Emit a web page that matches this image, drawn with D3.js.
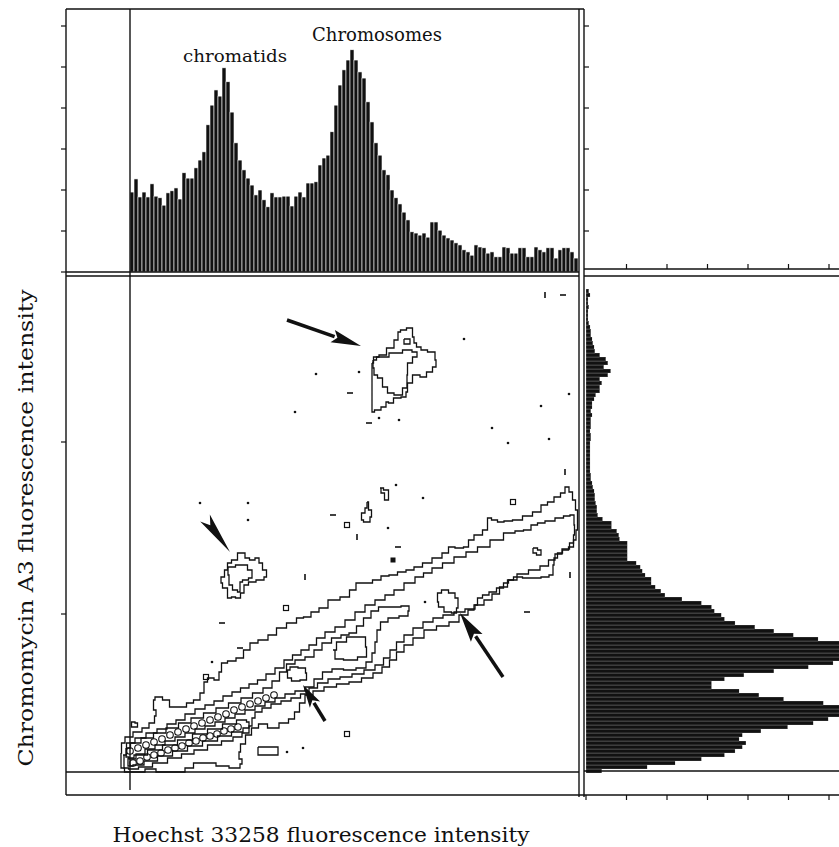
<!DOCTYPE html>
<html><head><meta charset="utf-8">
<script src="https://cdn.jsdelivr.net/npm/d3@7"></script>
<style>
body{margin:0;background:#fff}
svg{display:block}
text{font-family:"DejaVu Serif",serif;fill:#111}
</style>
</head><body>
<svg id="c" width="839" height="847"></svg>
<script>
// ---------- DATA ----------
// Top histogram: Hoechst 33258 channel bins (4 channels wide), counts
const binWidth = 4;
const topCounts = [195,227,183,195,183,215,185,181,163,193,
198,205,178,242,229,229,254,273,293,359,
407,444,429,498,464,390,315,273,249,229,
212,188,200,176,159,193,183,183,185,185,
161,185,195,183,217,217,220,261,278,285,
342,407,456,493,517,542,517,488,473,415,
366,315,285,249,237,200,181,166,146,127,
98,95,90,95,85,122,122,102,90,83,
78,71,66,54,49,41,66,61,59,46,
49,37,37,61,59,46,46,59,59,37,
37,61,54,49,59,59,34,54,59,59,
49,34];
// Right histogram: Chromomycin A3 channel bins (4 channels wide), counts
const rightCounts = [39,151,220,285,342,368,386,395,378,386,
432,498,561,598,639,671,654,586,488,427,
378,310,310,342,390,464,549,610,647,683,
708,695,659,573,512,464,417,368,342,334,
317,310,285,237,195,185,171,161,161,146,
139,134,124,102,102,102,102,102,83,81,
76,63,63,41,29,27,27,24,22,22,
20,17,15,12,12,10,10,10,10,10,
10,10,10,12,12,10,12,12,12,15,
12,15,15,20,24,34,34,39,34,54,
61,44,54,49,34,22,20,17,15,12,
12,10,7,5,5,5,7,5,5,10,
7];
const countTicks = [0,100,200,300,400,500,600];
const mainYTicks = [159,331];

// Contours [Hoechst, Chromomycin] in channel units
const contourOuter = [[-9,20],[-8,30],[-2,36],[8,41],[16,45],[22,50],[27,57],[25,63],[22,73],[28,76],[37,73],[42,66],[53,66],[60,70],[67,73],[73,80],[75,91],[80,95],[88,93],[90,101],[93,110],[102,112],[110,115],[117,123],[123,130],[133,133],[143,138],[150,145],[163,150],[170,155],[177,156],[185,161],[193,165],[203,173],[217,176],[222,183],[230,190],[238,190],[247,193],[255,197],[263,198],[272,201],[280,203],[288,206],[297,210],[307,215],[317,220],[320,226],[330,225],[337,226],[340,233],[348,238],[357,243],[358,255],[365,253],[370,251],[378,252],[387,253],[398,257],[407,261],[415,268],[420,271],[428,276],[433,280],[437,286],[441,281],[444,273],[447,263],[448,253],[447,243],[445,233],[442,226],[435,223],[430,220],[425,215],[423,208],[423,198],[415,196],[407,195],[398,195],[387,196],[380,193],[377,190],[370,185],[363,181],[355,178],[350,175],[345,168],
[343,163],[333,158],[325,151],[313,147],[300,143],[288,135],[278,128],[270,121],[263,113],[256,106],[248,100],[238,95],[225,91],[213,89],[200,86],[188,82],[178,78],[172,70],[167,61],[162,54],[155,50],[143,45],[132,49],[125,45],[118,38],[113,29],[108,21],[110,14],[114,9],[106,5],[92,7],[80,10],[67,10],[60,5],[50,1],[32,1],[20,4],[10,1],[-2,1],[-9,5]];
const contourBand = [[-7,18],[0,30],[10,35],[22,40],[32,44],[42,49],[50,53],[60,59],[70,64],[80,68],[88,72],[98,77],[106,81],[115,85],[123,89],[132,93],[140,99],[150,105],[158,113],[167,118],[175,123],[183,128],[190,135],[200,141],[210,146],[220,153],[230,161],[240,168],[250,173],[260,178],[268,183],[280,190],[290,196],[297,200],[307,205],[318,210],[330,216],[342,221],[353,226],[367,233],[380,240],[390,242],[397,243],[405,248],[410,250],[420,252],[430,255],[437,257],[443,258],[445,248],[444,238],[443,230],
[436,224],[428,219],[422,213],[415,207],[405,203],[392,199],[382,193],[373,186],[366,179],[358,173],[350,168],[340,164],[330,161],[318,158],[308,155],[298,151],[288,145],[278,138],[270,131],[263,123],[257,115],[250,108],[240,103],[228,99],[216,96],[204,94],[192,90],[183,85],[175,79],[166,75],[156,72],[146,69],[136,65],[128,61],[122,55],[122,47],[116,40],[108,36],[98,32],[85,28],[70,23],[58,19],[45,15],[30,10],[15,6],[2,4],[-5,5]];
const contourRidge = [[-4,25],[5,30],[17,35],[30,40],[42,45],[55,50],[67,55],[80,60],[92,65],[105,70],[117,75],[128,80],[138,85],[146,92],[153,101],[160,109],[170,113],[180,116],[188,123],[196,130],[207,135],[215,138],[223,140],[230,147],[237,155],[245,162],[252,166],[265,166],[277,167],[281,162],[275,157],[263,155],[253,151],[248,143],[246,131],[244,120],[240,111],[232,105],[220,103],[207,104],[197,101],[188,94],[180,86],[170,82],[160,79],[150,75],[140,71],[130,67],[120,63],[110,59],[100,55],[90,51],[80,47],[70,44],[60,40],[50,36],[40,32],[30,28],[20,24],[10,19],[2,14],[-4,16]];
const contourRidgeLow = [[-2,15],[10,18],[25,23],[40,28],[55,33],[70,39],[85,44],[100,49],[113,53],[120,51],[118,45],[108,41],[95,37],[80,32],[65,27],[50,22],[35,17],[20,12],[8,8],[-2,7]];
const contourPeak = [[203,123],[210,131],[223,136],[233,136],[238,126],[235,116],[220,113],[207,114]];
const contourSmallA = [[157,103],[163,106],[173,105],[178,100],[175,93],[165,92],[158,95]];
const contourSmallB = [[308,180],[315,183],[322,180],[328,175],[328,165],[325,160],[318,161],[310,166],[307,171]];
const contourUpperOuter = [[242,410],[245,416],[253,418],[260,425],[268,433],[268,441],[273,443],[280,445],[285,436],[283,430],[290,426],[292,423],[303,421],[307,413],[305,406],[300,401],[293,396],[287,398],[278,390],[277,381],[275,376],[267,375],[260,370],[257,371],[255,366],[247,363],[242,361]];
const contourUpperInner = [[243,413],[250,416],[268,420],[277,423],[287,421],[287,416],[278,410],[277,398],[277,385],[268,378],[260,380],[255,386],[250,395],[245,398],[243,405]];
const contourUpperDot = [[274,434],[280,434],[280,429],[274,429]];
const contourMidOuter = [[110,220],[105,213],[98,210],[97,203],[92,196],[90,190],[95,185],[100,175],[103,176],[108,175],[113,180],[115,188],[122,191],[130,193],[138,196],[135,203],[130,210],[128,215],[122,213],[117,215],[113,220]];
const contourMidInner = [[98,206],[113,208],[122,203],[122,195],[115,193],[110,191],[110,181],[105,183],[100,188],[98,198]];
const smallLoops = [
  [[2,51],[8,50],[7,46],[1,46]],
  [[237,271],[240,263],[243,256],[237,251],[230,253],[233,260],[237,265]],
  [[250,285],[257,283],[260,276],[257,273],[252,280]],
  [[403,225],[412,223],[410,218],[403,220]],
  [[128,26],[148,26],[148,18],[128,18]]
];
const beadsUpper = [[0,22],[8,25],[16,28],[24,31],[32,34],[40,38],[48,41],[56,44],[64,47],[72,50],[80,53],[88,56],[96,59],[104,63],[112,66],[120,69],[128,72],[136,75],[144,78]];
const beadsLower = [[3,10],[10,12],[17,16],[24,18],[31,20],[38,23],[45,25],[52,27],[59,30],[66,32],[73,35],[80,37],[87,39],[94,42],[101,44],[108,46]];
const dots = [[334,434],[186,399],[229,401],[165,361],[249,355],[269,353],[362,345],[378,330],[411,367],[419,334],[439,379],[266,288],[293,275],[258,245],[295,171],[118,270],[70,270],[118,253],[82,111],[157,21],[173,25]];
const dashesH = [[220,380],[239,350],[433,478],[268,226],[397,161],[203,258],[92,150],[110,125]];
const dashesV = [[415,478],[227,236],[175,196],[435,301],[440,198]];
const squares = [[217,248],[156,165],[383,271],[76,96],[217,39]];
const squaresFilled = [[263,213]];
// arrows: [tail, tip]
const arrows = [
  {tail:[157,453], tip:[231,427], head:30, w:13},
  {tail:[373,96],  tip:[330,160], head:30, w:14},
  {tail:[195,52],  tip:[173,88],  head:23, w:12}
];
const featherArrow = {tail:[75,255], tip:[100,221]};
const labels = [
  {text:"chromatids", at:105, count:512, size:17, len:104},
  {text:"Chromosomes", at:247, count:563, size:18, len:130}
];
const xTitle = "Hoechst 33258 fluorescence intensity";
const yTitle = "Chromomycin A3 fluorescence intensity";

// ---------- LAYOUT ----------
const svg = d3.select("#c");
const x = d3.scaleLinear().domain([0,448]).range([130,578]);
const y = d3.scaleLinear().domain([0,501]).range([773,272]);
const yTop = d3.scaleLinear().domain([0,600]).range([272,26]);
const xRight = d3.scaleLinear().domain([0,600]).range([586,829]);

const L = 66, R1 = 579, R2 = 584, T = 9, B = 795;
const ink = "#111";

// top histogram bars
svg.append("g").selectAll("rect").data(topCounts).join("rect")
  .attr("x",(d,i)=>x(i*binWidth)).attr("width",(d,i)=>x((i+1)*binWidth)-x(i*binWidth))
  .attr("y",d=>yTop(d)).attr("height",d=>yTop(0)-yTop(d))
  .attr("fill",ink).attr("stroke","#fff").attr("stroke-width",0.6);

// right histogram bars
svg.append("g").selectAll("rect").data(rightCounts).join("rect")
  .attr("x",xRight(0)).attr("width",d=>xRight(d)-xRight(0))
  .attr("y",(d,j)=>y((j+1)*binWidth)).attr("height",(d,j)=>y(j*binWidth)-y((j+1)*binWidth))
  .attr("fill",ink).attr("stroke","#fff").attr("stroke-width",0.2);

// frame lines
const lines = [
  [L,T,L,B],[L,T,R2,T],[x(0),T,x(0),790],
  [L,yTop(0),R1,yTop(0)],[L,yTop(0)+4,R1,yTop(0)+4],
  [R1,T,R1,B+2],[R2,T,R2,B+2],
  [R2,269,839,269],[R2,276,839,276],
  [L,y(0)-1,R1,y(0)-1],[R2,771,839,771],
  [L,B,839,B]
];
svg.append("g").selectAll("line").data(lines).join("line")
  .attr("x1",d=>d[0]).attr("y1",d=>d[1]).attr("x2",d=>d[2]).attr("y2",d=>d[3])
  .attr("stroke",ink).attr("stroke-width",1.4);

// ticks
const tk = svg.append("g").attr("stroke",ink).attr("stroke-width",1.2);
countTicks.forEach(v=>{
  tk.append("line").attr("x1",L).attr("x2",L-5).attr("y1",yTop(v)).attr("y2",yTop(v));
  if(v>0){
    tk.append("line").attr("x1",R2).attr("x2",R2+5).attr("y1",yTop(v)).attr("y2",yTop(v));
    tk.append("line").attr("x1",xRight(v)).attr("x2",xRight(v)).attr("y1",269).attr("y2",264);
  }
  tk.append("line").attr("x1",xRight(v)).attr("x2",xRight(v)).attr("y1",B).attr("y2",B+5);
});
mainYTicks.forEach(v=>{
  tk.append("line").attr("x1",L).attr("x2",L-5).attr("y1",y(v)).attr("y2",y(v));
});

// contours
const step = d3.line().x(d=>x(d[0])).y(d=>y(d[1])).curve(d3.curveStep);
const closed = pts => step(pts.concat([pts[0]]));
const cg = svg.append("g").attr("fill","none").attr("stroke",ink).attr("stroke-width",1.3);
[contourOuter,contourBand,contourRidge,contourRidgeLow,contourPeak,contourSmallA,contourSmallB,
 contourUpperOuter,contourUpperInner,contourUpperDot,contourMidOuter,contourMidInner,...smallLoops]
 .forEach(c=>cg.append("path").attr("d",closed(c)));

// beads
cg.selectAll("circle.b").data(beadsUpper.concat(beadsLower)).join("circle")
  .attr("cx",d=>x(d[0])).attr("cy",d=>y(d[1])).attr("r",3.3).attr("stroke-width",1.1);

// dots, dashes, squares
svg.append("g").selectAll("circle").data(dots).join("circle")
  .attr("cx",d=>x(d[0])).attr("cy",d=>y(d[1])).attr("r",1.3).attr("fill",ink);
svg.append("g").selectAll("line").data(dashesH).join("line")
  .attr("x1",d=>x(d[0])-3).attr("x2",d=>x(d[0])+3).attr("y1",d=>y(d[1])).attr("y2",d=>y(d[1]))
  .attr("stroke",ink).attr("stroke-width",1.6);
svg.append("g").selectAll("line").data(dashesV).join("line")
  .attr("x1",d=>x(d[0])).attr("x2",d=>x(d[0])).attr("y1",d=>y(d[1])-3).attr("y2",d=>y(d[1])+3)
  .attr("stroke",ink).attr("stroke-width",1.6);
svg.append("g").selectAll("rect").data(squares).join("rect")
  .attr("x",d=>x(d[0])-2.5).attr("y",d=>y(d[1])-2.5).attr("width",5).attr("height",5)
  .attr("fill","none").attr("stroke",ink).attr("stroke-width",1.2);
svg.append("g").selectAll("rect").data(squaresFilled).join("rect")
  .attr("x",d=>x(d[0])-2.5).attr("y",d=>y(d[1])-2.5).attr("width",5).attr("height",5)
  .attr("fill",ink);

// arrows
const ag = svg.append("g").attr("fill",ink).attr("stroke",ink);
arrows.forEach(a=>{
  const x0=x(a.tail[0]), y0=y(a.tail[1]), x1=x(a.tip[0]), y1=y(a.tip[1]);
  const dx=x1-x0, dy=y1-y0, len=Math.hypot(dx,dy), ux=dx/len, uy=dy/len, px=-uy, py=ux;
  const bx=x1-ux*a.head, by=y1-uy*a.head;
  ag.append("line").attr("x1",x0).attr("y1",y0).attr("x2",bx+ux*2).attr("y2",by+uy*2).attr("stroke-width",3.5);
  ag.append("path").attr("stroke","none")
    .attr("d",`M${x1},${y1}L${bx+px*a.w/2},${by+py*a.w/2}L${bx+ux*5},${by+uy*5}L${bx-px*a.w/2},${by-py*a.w/2}Z`);
});
{
  const a=featherArrow;
  const x0=x(a.tail[0]), y0=y(a.tail[1]), x1=x(a.tip[0]), y1=y(a.tip[1]);
  const dx=x1-x0, dy=y1-y0, len=Math.hypot(dx,dy), ux=dx/len, uy=dy/len, px=-uy, py=ux;
  ag.append("path").attr("stroke","none")
    .attr("d",`M${x1},${y1}L${x0+px*6},${y0+py*6}L${x0+ux*9},${y0+uy*9}L${x0-px*6},${y0-py*6}Z`);
}

// labels
svg.append("g").selectAll("text").data(labels).join("text")
  .attr("x",d=>x(d.at)).attr("y",d=>yTop(d.count)).attr("text-anchor","middle")
  .attr("font-size",d=>d.size).attr("textLength",d=>d.len).attr("lengthAdjust","spacingAndGlyphs")
  .text(d=>d.text);
svg.append("text").attr("x",321).attr("y",842).attr("text-anchor","middle")
  .attr("font-size",21).attr("textLength",417).attr("lengthAdjust","spacingAndGlyphs").text(xTitle);
svg.append("text").attr("transform","translate(33,528) rotate(-90)").attr("text-anchor","middle")
  .attr("font-size",21).attr("textLength",477).attr("lengthAdjust","spacingAndGlyphs").text(yTitle);
</script>
</body></html>
